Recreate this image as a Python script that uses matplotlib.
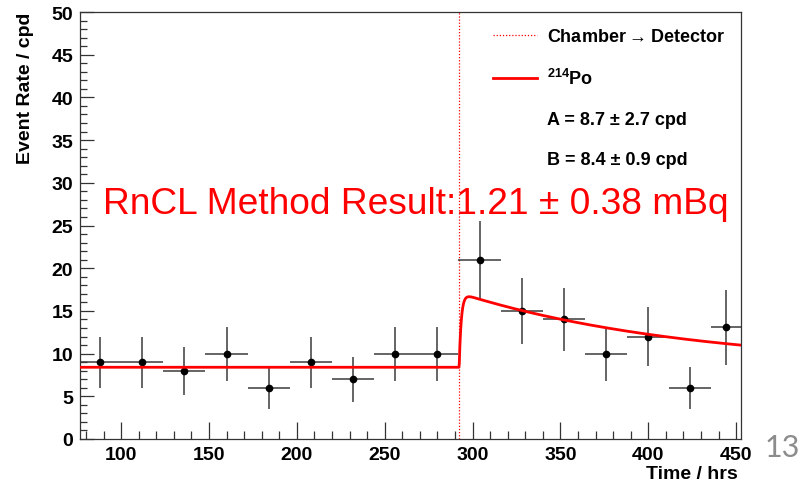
import matplotlib
matplotlib.use("Agg")
import matplotlib.pyplot as plt
import numpy as np
from matplotlib.lines import Line2D
from matplotlib.ticker import MultipleLocator

plt.rcParams['font.family'] = ['Liberation Sans', 'DejaVu Sans']
plt.rcParams['mathtext.fontset'] = 'custom'
plt.rcParams['mathtext.rm'] = 'Liberation Sans:bold'
plt.rcParams['mathtext.default'] = 'rm'

# binned event rate (cpd), 24 h bins, last bin partial
bin_centers = [88, 112, 136, 160, 184, 208, 232, 256, 280,
               304, 328, 352, 376, 400, 424, 444.5]
bin_halfwidth = [12] * 15 + [8.5]
rates = [9, 9, 8, 10, 6, 9, 7, 10, 10, 21, 15, 14, 10, 12, 6, 13.1]
rate_err = [3.0, 3.0, 2.83, 3.16, 2.45, 3.0, 2.65, 3.16, 3.16,
            4.58, 3.87, 3.74, 3.16, 3.46, 2.45, 4.4]

# fit parameters (legend) and transfer time
A_fit, A_err = 8.7, 2.7
B_fit, B_err = 8.4, 0.9
t_transfer = 292.4
tau_rn = 3.8235 * 24 / np.log(2)   # Rn-222 mean life in hours
tau_in = 1.2                       # Po-214 ingrowth (approx.)

x_min, x_max = 76.6, 452.8

fig = plt.figure(figsize=(8.01, 4.85), dpi=100)
ax = fig.add_axes([80 / 801, 45 / 485, 661 / 801, 427 / 485])

ax.errorbar(bin_centers, rates, xerr=bin_halfwidth, yerr=rate_err,
            fmt='o', color='black', ms=4.5, ecolor='#3a3a3a',
            elinewidth=1.1, capsize=0, zorder=3)

t = np.linspace(x_min, x_max, 2000)
dt = np.clip(t - t_transfer, 0, None)
fit = B_fit + A_fit * np.exp(-dt / tau_rn) * (1 - np.exp(-dt / tau_in))
ax.plot(t, fit, color='#ff0000', lw=2, zorder=4)
ax.axvline(t_transfer, color='#ff0000', lw=0.9, ls=(0, (1, 1.5)), zorder=2)

ax.set_xlim(x_min, x_max)
ax.set_ylim(0, 50)
ax.xaxis.set_major_locator(MultipleLocator(50))
ax.xaxis.set_minor_locator(MultipleLocator(10))
ax.yaxis.set_major_locator(MultipleLocator(5))
ax.yaxis.set_minor_locator(MultipleLocator(1))
ax.tick_params(which='both', direction='in', top=False, right=False,
               color='#333333', width=0.9)
ax.tick_params(axis='x', which='major', length=12, pad=5)
ax.tick_params(axis='x', which='minor', length=6)
ax.tick_params(axis='y', which='major', length=10, pad=5)
ax.tick_params(axis='y', which='minor', length=5)
for lab in ax.get_xticklabels() + ax.get_yticklabels():
    lab.set_fontsize(14)
    lab.set_fontweight('bold')
for sp in ax.spines.values():
    sp.set_color('#333333')
    sp.set_linewidth(0.9)

fig.text(26 / 801, 1 - 13 / 485, 'Event Rate / cpd', rotation=90,
         ha='center', va='top', fontsize=14, fontweight='bold')
fig.text(738 / 801, 1 - 475 / 485, 'Time / hrs', ha='right', va='center',
         fontsize=14, fontweight='bold')

handles = [
    Line2D([], [], color='#ff0000', lw=0.9, ls=(0, (1, 1.5))),
    Line2D([], [], color='#ff0000', lw=2),
    Line2D([], [], color='none'),
    Line2D([], [], color='none'),
]
labels = [
    r'Chamber$\rightarrow$Detector',
    r'$^{214}$Po',
    f'A = {A_fit} \u00b1 {A_err} cpd',
    f'B = {B_fit} \u00b1 {B_err} cpd',
]
leg = ax.legend(handles, labels, loc='upper left', bbox_to_anchor=(0.6245, 0.962),
                frameon=False, borderpad=0, borderaxespad=0, handlelength=2.45,
                handletextpad=0.55, labelspacing=1.27,
                prop={'weight': 'bold', 'size': 13})

ax.text(103 / 801, 1 - 205 / 485, 'RnCL Method Result:1.21 \u00b1 0.38 mBq',
        transform=fig.transFigure, ha='left', va='center', color='#ff0000',
        fontsize=26.7, zorder=5)

fig.text(782 / 801, 1 - 448 / 485, '13', ha='center', va='center',
         fontsize=22, color='#8c8c8c', family=['Lato', 'DejaVu Sans'])

fig.savefig('out.png', dpi=100)
